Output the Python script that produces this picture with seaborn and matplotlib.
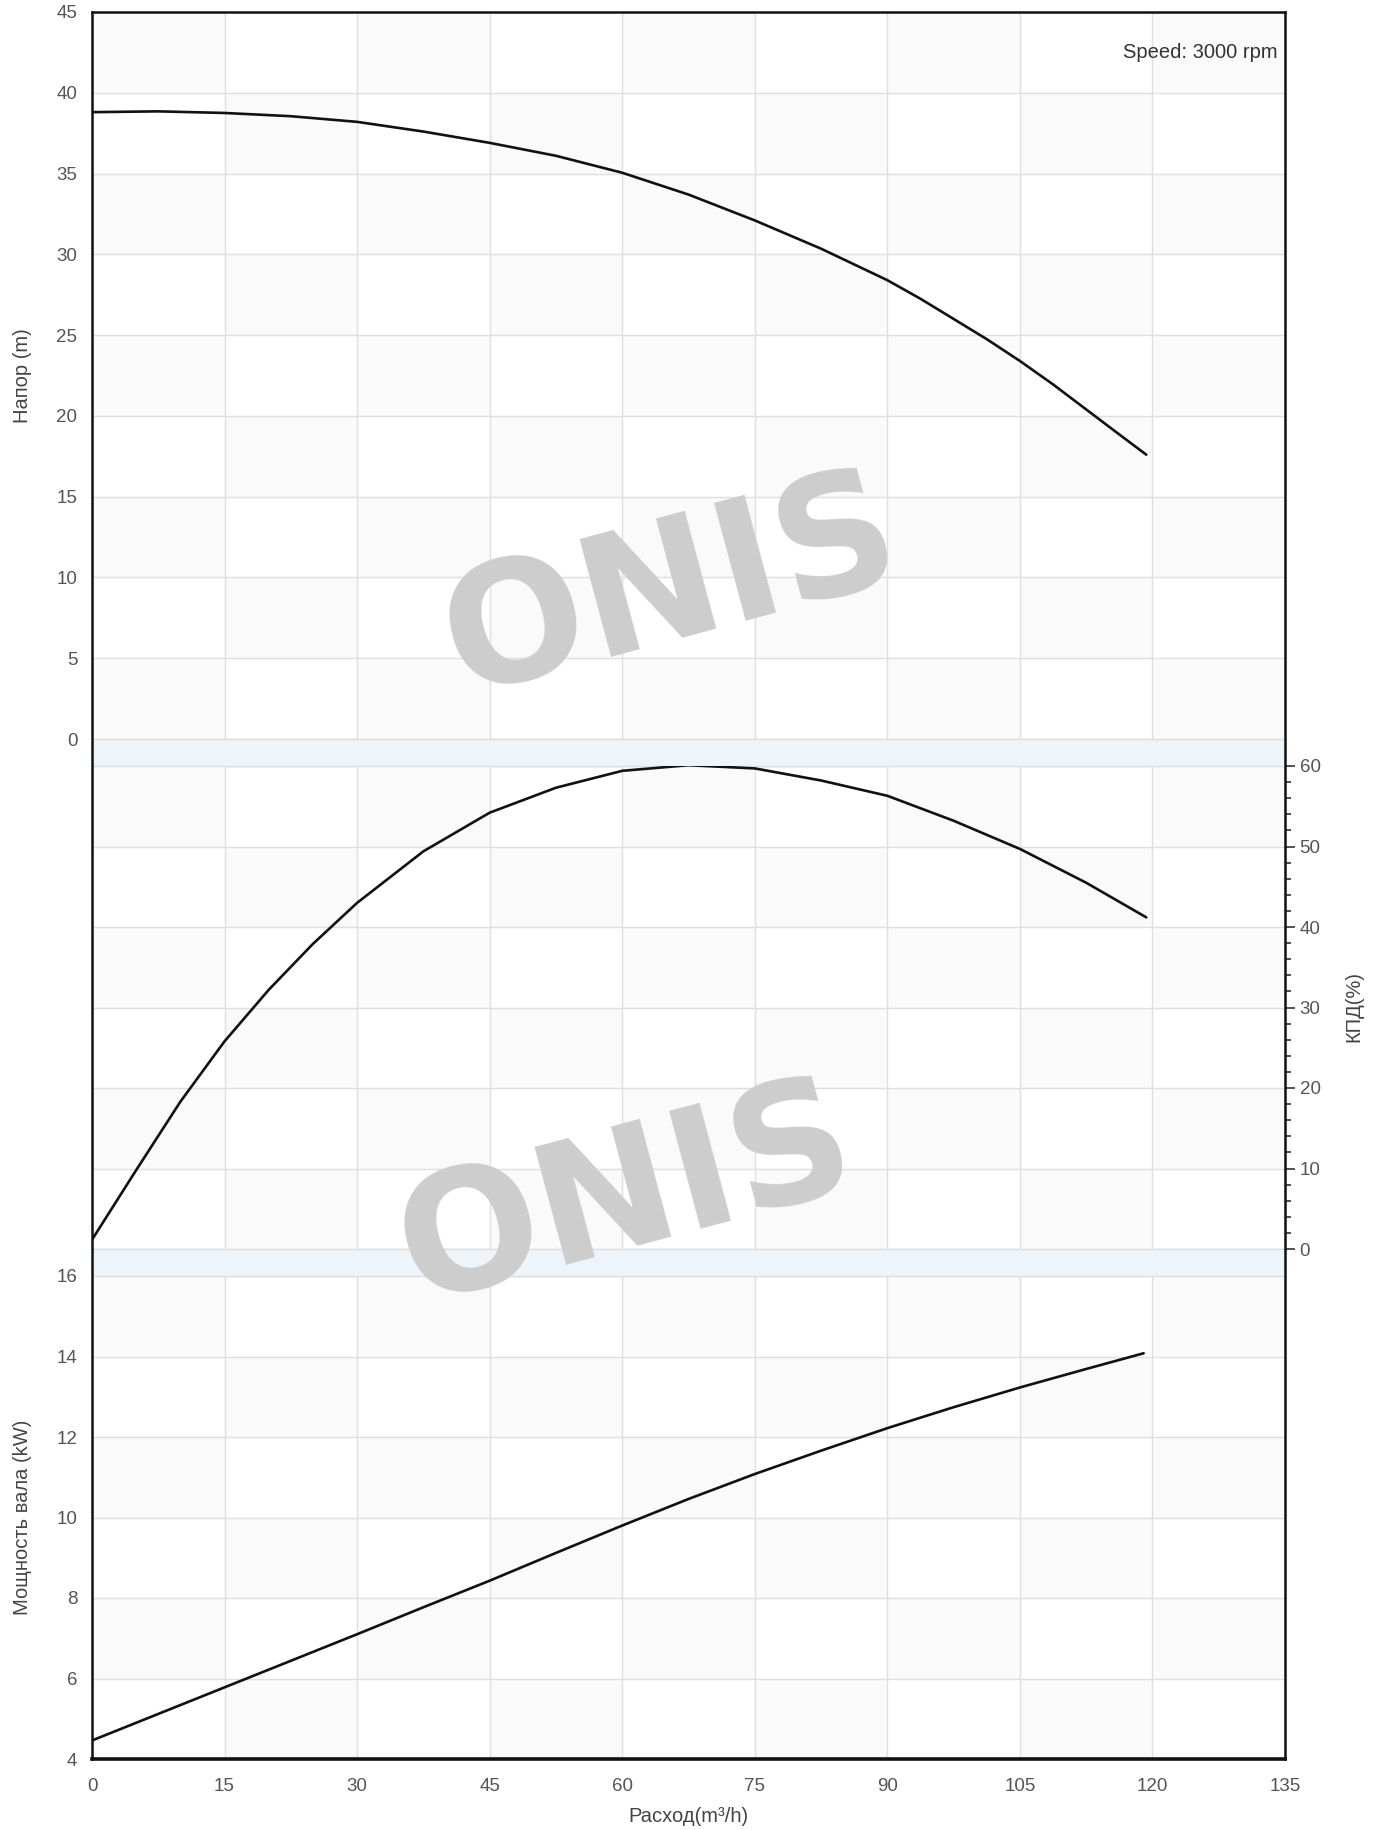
import matplotlib
matplotlib.use('Agg')
import matplotlib.pyplot as plt
from matplotlib import font_manager
from matplotlib.patches import Rectangle
from matplotlib.ticker import MultipleLocator
import seaborn as sns
import pandas as pd

# pump curves (flow in m3/h)
q_head = [0, 7.5, 15, 22.5, 30, 37.5, 45, 52.5, 60, 67.5, 75, 82.5, 90, 93.75,
          97.5, 101.25, 105, 108.75, 112.5, 116.25, 119.3]
head = [38.8, 38.85, 38.75, 38.55, 38.2, 37.6, 36.9, 36.1, 35.05, 33.7, 32.1, 30.35, 28.4, 27.25,
        26.0, 24.75, 23.4, 21.95, 20.4, 18.85, 17.6]

q_eff = [0, 5, 10, 15, 20, 25, 30, 37.5, 45, 52.5, 60, 67.5, 75, 82.5, 90, 97.5, 105, 112.5, 119.3]
eff = [1.15, 9.8, 18.3, 25.8, 32.2, 37.9, 43.0, 49.4, 54.2, 57.3, 59.4, 60.1, 59.7, 58.2, 56.3,
       53.2, 49.7, 45.5, 41.2]

q_pow = [0, 7.5, 15, 22.5, 30, 37.5, 45, 52.5, 60, 67.5, 75, 82.5, 90, 97.5, 105, 112.5, 119]
power = [4.46, 5.12, 5.78, 6.44, 7.10, 7.77, 8.43, 9.12, 9.80, 10.46, 11.08, 11.66, 12.22, 12.74,
         13.23, 13.69, 14.08]

x_ticks = [0, 15, 30, 45, 60, 75, 90, 105, 120, 135]
speed_label = 'Speed: 3000 rpm'

sns.set_style('white')
names = {f.name for f in font_manager.fontManager.ttflist}
base = 'Liberation Sans' if 'Liberation Sans' in names else 'DejaVu Sans'
narrow = 'Liberation Sans Narrow' if 'Liberation Sans Narrow' in names else base
plt.rcParams['font.family'] = [base, 'DejaVu Sans']

W, H = 1377, 1830
fig = plt.figure(figsize=(W / 100, H / 100), dpi=100)
fig.patch.set_facecolor('white')


def box(top, bottom):
    return [92 / W, (H - bottom) / H, 1193 / W, (bottom - top) / H]


# background with the light blue separators
bg = fig.add_axes(box(12, 1759), zorder=0)
bg.set_xlim(0, 1)
bg.set_ylim(1759, 12)
bg.axis('off')
for y0, y1 in [(739, 766), (1249, 1276)]:
    bg.axhspan(y0, y1, color='#eef5fa', zorder=1)
    bg.axhline(y0, color='#dddddd', lw=1, zorder=2)
    bg.axhline(y1, color='#dddddd', lw=1, zorder=2)

panels = [
    (box(12, 739), q_head, head, (0, 45), 5, 1, 2),
    (box(766, 1249), q_eff, eff, (0, 60), 10, 2, 2),
    (box(1276, 1759), q_pow, power, (4, 16), 2, 0.4, 1),
]

axes = []
for rect, xs, ys, ylim, major, minor, z in panels:
    ax = fig.add_axes(rect, zorder=z)
    ax.patch.set_visible(False)
    for s in ax.spines.values():
        s.set_visible(False)
    ax.set_xlim(0, 135)
    ax.set_ylim(*ylim)
    ax.xaxis.set_major_locator(MultipleLocator(15))
    ax.xaxis.set_minor_locator(MultipleLocator(5))
    ax.yaxis.set_major_locator(MultipleLocator(major))
    ax.yaxis.set_minor_locator(MultipleLocator(minor))

    # faint checkerboard cells, top-left one shaded
    y_edges = list(range(int(ylim[1]), int(ylim[0]) - 1, -major))
    for r in range(len(y_edges) - 1):
        for c in range(len(x_ticks) - 1):
            if (r + c) % 2 == 0:
                ax.add_patch(Rectangle((x_ticks[c], y_edges[r + 1]), 15, major,
                                       color='#fafafa', lw=0, zorder=0))
    ax.grid(True, which='major', color='#dfdfdf', lw=1, zorder=1)
    ax.set_axisbelow(True)

    df = pd.DataFrame({'q': xs, 'v': ys})
    sns.lineplot(data=df, x='q', y='v', ax=ax, color='#111111', lw=1.9,
                 sort=False, zorder=5)
    ax.set_xlabel('')
    ax.set_ylabel('')
    ax.tick_params(which='both', direction='out', color='#222222', width=1.1,
                   labelcolor='#555555', labelsize=13.5)
    ax.tick_params(which='major', length=7)
    ax.tick_params(which='minor', length=4)
    axes.append(ax)

ax_h, ax_e, ax_p = axes
ax_h.tick_params(axis='x', which='both', bottom=False, labelbottom=False)
ax_e.tick_params(axis='x', which='both', bottom=False, labelbottom=False)
ax_e.tick_params(axis='y', which='both', left=False, labelleft=False,
                 right=True, labelright=True)
ax_p.tick_params(axis='x', which='both', pad=7)
for ax in axes:
    for lab in ax.get_xticklabels() + ax.get_yticklabels():
        lab.set_family([narrow, 'DejaVu Sans'])

# watermarks, above the grid but under the curves
wm = dict(fontsize=120, fontweight='bold', color='#cdcdcd', rotation=15,
          ha='center', va='center', family='DejaVu Sans', zorder=3, clip_on=False)
ax_h.text(672 / W, 1 - 590 / H, 'ONIS', transform=fig.transFigure, **wm)
ax_e.text(627 / W, 1 - 1198 / H, 'ONIS', transform=fig.transFigure, **wm)

# outer frame on top
frame = fig.add_axes(box(12, 1759), zorder=5)
frame.patch.set_visible(False)
frame.set_xticks([])
frame.set_yticks([])
for s in ['left', 'right', 'top']:
    frame.spines[s].set_linewidth(1.8)
    frame.spines[s].set_color('#111111')
frame.spines['bottom'].set_linewidth(2.6)
frame.spines['bottom'].set_color('#111111')

txt = dict(color='#444444', fontsize=14.5)
fig.text(23 / W, 1 - 376 / H, 'Напор (m)', rotation=90, ha='center', va='center', **txt)
fig.text(1354 / W, 1 - 1007 / H, 'КПД(%)', rotation=90, ha='center', va='center', **txt)
fig.text(23 / W, 1 - 1517 / H, 'Мощность вала (kW)', rotation=90, ha='center', va='center', **txt)
fig.text(688 / W, 1 - 1817 / H, 'Расход(m³/h)', ha='center', va='center', **txt)
fig.text(1278 / W, 1 - 53 / H, speed_label, ha='right', va='center',
         color='#333333', fontsize=14.5)

fig.savefig('out.png', dpi=100)
